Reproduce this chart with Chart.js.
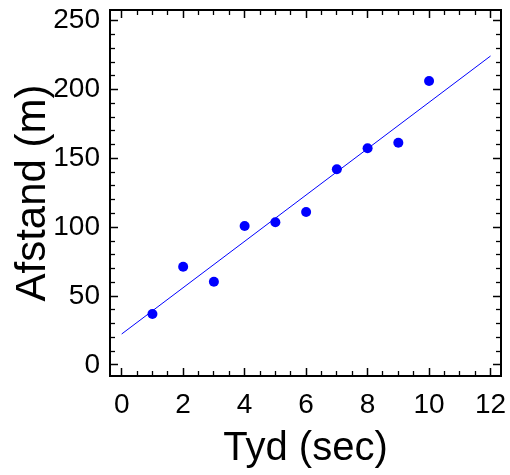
<!DOCTYPE html>
<html>
<head>
<meta charset="utf-8">
<script src="https://cdn.jsdelivr.net/npm/chart.js@4/dist/chart.umd.min.js"></script>
<style>
  html, body { margin: 0; padding: 0; background: #fff; }
  canvas { display: block; }
</style>
</head>
<body>
<canvas id="c" width="510" height="475"></canvas>
<script>
/* data */
const timeSec = [1, 2, 3, 4, 5, 6, 7, 8, 9, 10];
const distance = [37.0, 71.4, 60.5, 100.9, 103.6, 111.1, 142.1, 157.4, 161.4, 206.2];
const fitX = [0, 12];
const fitY = [22.5, 224.4];

const xTicks = [0, 2, 4, 6, 8, 10, 12];
const yTicks = [0, 50, 100, 150, 200, 250];
const xTitle = 'Tyd (sec)';
const yTitle = 'Afstand (m)';

const X_MIN = -0.38, X_MAX = 12.34;
const Y_MIN = -8.0, Y_MAX = 257.8;
const FONT = "'Liberation Sans', Arial, sans-serif";
const BLUE = '#0000ff';

/* minor tick positions between the majors */
function steps(from, to, step) {
  const out = [];
  for (let v = from; v <= to + 1e-9; v += step) out.push(+v.toFixed(4));
  return out;
}
const xMinor = steps(0, 12, 0.5).filter(v => !xTicks.includes(v));
const yMinor = steps(0, 250, 10).filter(v => !yTicks.includes(v));

const setTicks = vals => s => { s.ticks = vals.map(v => ({ value: v })); };
// pin each axis box to a fixed size and drop the label overhang padding
const fixSize = (w, h) => s => {
  if (w !== null) s.width = w;
  if (h !== null) s.height = h;
  s.paddingTop = s.paddingBottom = s.paddingLeft = s.paddingRight = 0;
};

function axis(base, o) {
  return Object.assign({
    type: 'linear',
    min: base === 'x' ? X_MIN : Y_MIN,
    max: base === 'x' ? X_MAX : Y_MAX,
    grid: { drawOnChartArea: false, drawTicks: true, tickLength: -8, tickWidth: 1.5, tickColor: '#000' },
    border: { display: true, color: '#000', width: 2 },
    ticks: { display: false }
  }, o);
}

function minorAxis(base, position) {
  const horiz = base === 'x';
  return axis(base, {
    axis: base, position, weight: -1,
    grid: { drawOnChartArea: false, drawTicks: true, tickLength: -5, tickWidth: 1.3, tickColor: '#000' },
    border: { display: false },
    afterBuildTicks: setTicks(horiz ? xMinor : yMinor),
    afterFit: horiz ? fixSize(null, 0) : fixSize(0, null)
  });
}

new Chart(document.getElementById('c'), {
  type: 'scatter',
  data: {
    datasets: [
      {
        label: 'data',
        data: timeSec.map((t, i) => ({ x: t, y: distance[i] })),
        backgroundColor: BLUE, borderWidth: 0, pointRadius: 5, pointHoverRadius: 5
      },
      {
        type: 'line',
        label: 'fit',
        data: fitX.map((t, i) => ({ x: t, y: fitY[i] })),
        borderColor: BLUE, borderWidth: 1, pointRadius: 0, fill: false, tension: 0
      }
    ]
  },
  options: {
    responsive: false,
    animation: false,
    events: [],
    layout: { padding: 0 },
    plugins: { legend: { display: false }, tooltip: { enabled: false } },
    scales: {
      x: axis('x', {
        position: 'bottom',
        afterBuildTicks: setTicks(xTicks),
        afterFit: fixSize(null, 99),
        ticks: { display: true, color: '#000', padding: 20, maxRotation: 0, font: { family: FONT, size: 28, lineHeight: 1.2 } },
        title: { display: true, text: xTitle, color: '#000', padding: { top: 0, bottom: 6 }, font: { family: FONT, size: 40, lineHeight: 1 } }
      }),
      y: axis('y', {
        position: 'left',
        afterBuildTicks: setTicks(yTicks),
        afterFit: fixSize(110, null),
        ticks: { display: true, color: '#000', padding: 18, font: { family: FONT, size: 28, lineHeight: 1.2 } },
        title: { display: true, text: yTitle, color: '#000', padding: { top: 12, bottom: 0 }, font: { family: FONT, size: 42, lineHeight: 1 } }
      }),
      xTop: axis('x', { axis: 'x', position: 'top', afterBuildTicks: setTicks(xTicks), afterFit: fixSize(null, 10) }),
      yRight: axis('y', { axis: 'y', position: 'right', afterBuildTicks: setTicks(yTicks), afterFit: fixSize(9, null) }),
      xMinorB: minorAxis('x', 'bottom'),
      xMinorT: minorAxis('x', 'top'),
      yMinorL: minorAxis('y', 'left'),
      yMinorR: minorAxis('y', 'right')
    }
  }
});
</script>
</body>
</html>
